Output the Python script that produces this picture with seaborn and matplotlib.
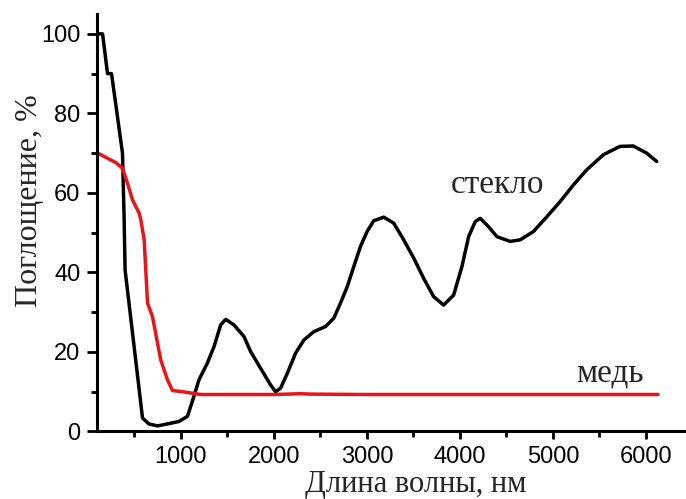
import matplotlib
matplotlib.use("Agg")
import matplotlib.pyplot as plt
import seaborn as sns
import pandas as pd
from matplotlib.ticker import MultipleLocator

# Glass (стекло) curve
glass_x = [109, 160, 213, 256, 374, 392, 402, 589, 657, 750, 979, 1072, 1129, 1196,
           1286, 1357, 1429, 1483, 1572, 1679, 1751, 1858, 1966, 2019, 2073, 2145,
           2234, 2323, 2430, 2556, 2645, 2717, 2789, 2860, 2931, 3003, 3074, 3181,
           3289, 3396, 3504, 3611, 3718, 3825, 3933, 4022, 4094, 4165, 4219, 4308,
           4398, 4541, 4648, 4791, 4934, 5077, 5220, 5363, 5542, 5721, 5864, 6008, 6115]
glass_y = [100, 100, 90, 90, 70, 53, 40.6, 3.4, 1.9, 1.4, 2.5, 3.8, 7.9, 13.0,
           17.2, 21.3, 26.8, 28.2, 26.8, 23.9, 20.1, 15.9, 11.7, 10.0, 10.9, 14.6,
           19.7, 23.0, 25.1, 26.4, 28.5, 32.3, 36.4, 41.5, 46.5, 50.3, 53.0, 53.9,
           52.4, 48.2, 43.6, 38.5, 33.9, 31.8, 34.3, 41.5, 49.0, 52.8, 53.6, 51.5,
           49.0, 47.8, 48.2, 50.3, 54.0, 57.8, 62.0, 65.8, 69.6, 71.7, 71.8, 70.0, 67.9]

# Copper (медь) curve
copper_x = [109, 303, 374, 428, 482, 553, 571, 607, 643, 696, 785, 857, 911, 1018,
            1215, 2000, 2290, 2400, 3000, 4000, 5000, 6130]
copper_y = [70, 67.6, 66.2, 62.4, 58.2, 54.9, 53.2, 48.2, 32.3, 28.9, 18.0, 13.0, 10.3, 10.0,
            9.3, 9.3, 9.5, 9.4, 9.3, 9.3, 9.3, 9.3]

x_ticks = [1000, 2000, 3000, 4000, 5000, 6000]
y_ticks = [0, 20, 40, 60, 80, 100]

sns.set_style("ticks")
plt.rcParams['font.family'] = ['Liberation Sans', 'DejaVu Sans']

fig = plt.figure(figsize=(6.86, 4.99), dpi=100)
ax = fig.add_axes([0.1414, 0.1353, 0.8586, 0.8367])

glass = pd.DataFrame({"x": glass_x, "y": glass_y})
copper = pd.DataFrame({"x": copper_x, "y": copper_y})
sns.lineplot(data=glass, x="x", y="y", ax=ax, color="black", linewidth=2.5, sort=False)
sns.lineplot(data=copper, x="x", y="y", ax=ax, color="#e8141a", linewidth=2.5, sort=False)
for ln in ax.lines:
    ln.set_solid_joinstyle("round")
    ln.set_solid_capstyle("round")

ax.set_xlim(100, 6430)
ax.set_ylim(0, 105)
ax.set_xticks(x_ticks)
ax.set_yticks(y_ticks)
ax.xaxis.set_minor_locator(MultipleLocator(500))
ax.yaxis.set_minor_locator(MultipleLocator(10))

for s in ["top", "right"]:
    ax.spines[s].set_visible(False)
for s in ["left", "bottom"]:
    ax.spines[s].set_linewidth(2.2)
    ax.spines[s].set_color("black")

ax.tick_params(axis="x", which="major", direction="out", length=5.5, width=2, labelsize=17,
               colors="black", pad=4.8)
ax.tick_params(axis="x", which="minor", direction="out", length=4.5, width=2, colors="black")
ax.tick_params(axis="y", which="major", direction="out", length=7, width=2, labelsize=17,
               colors="black", pad=5)
ax.tick_params(axis="y", which="minor", direction="out", length=4.5, width=2, colors="black")

serif = ['Liberation Serif', 'DejaVu Serif']
ax.set_xlabel("Длина волны, нм", fontsize=22, family=serif)
ax.set_ylabel("Поглощение, %", fontsize=23, family=serif)
ax.xaxis.set_label_coords(0.541, -0.0925)
ax.yaxis.set_label_coords(-0.090, 0.553)

ax.text(4407, 59.9, "стекло", fontsize=24, family=serif, ha="center", va="baseline")
ax.text(5614, 12.5, "медь", fontsize=24, family=serif, ha="center", va="baseline")

fig.savefig("out.png", dpi=100)
